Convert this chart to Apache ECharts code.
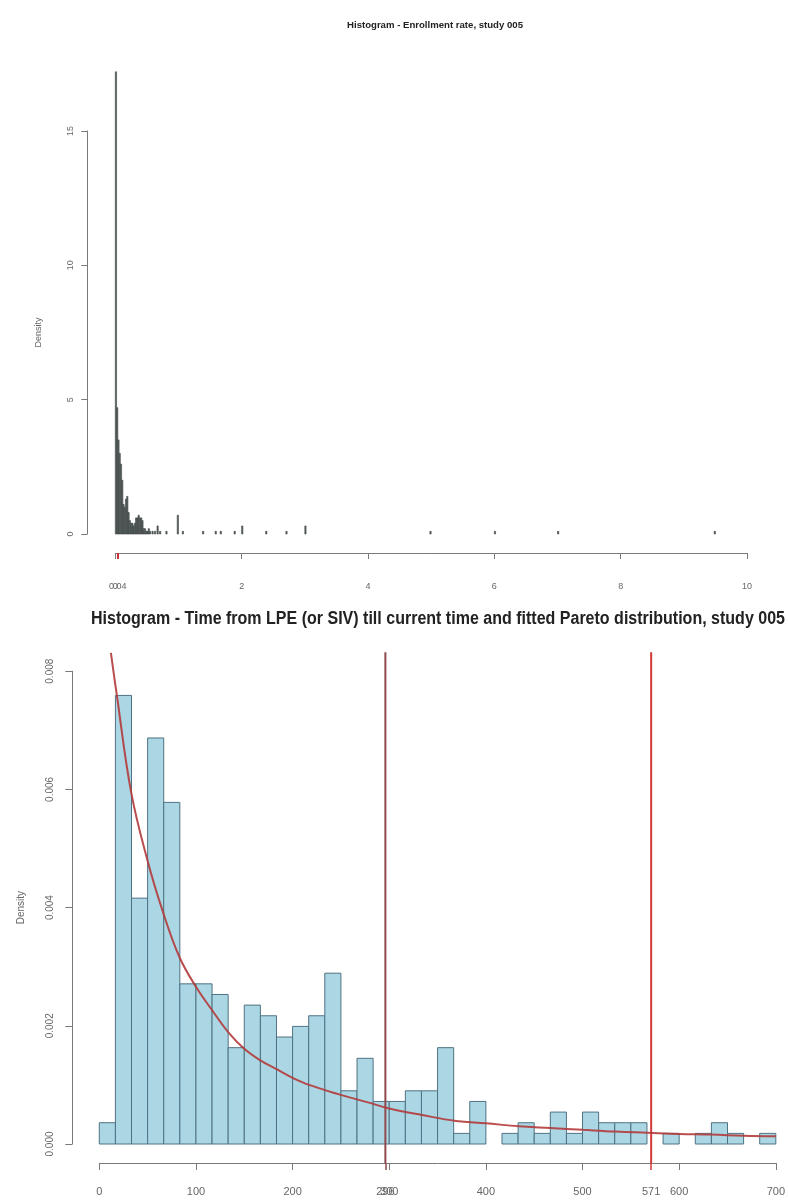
<!DOCTYPE html>
<html><head><meta charset="utf-8">
<script src="https://cdn.jsdelivr.net/npm/echarts@6/dist/echarts.min.js"></script>
<style>html,body{margin:0;padding:0;background:#fff}#c{width:788px;height:1203px}</style>
</head><body><div id="c"></div>
<script>
// ---------- Top chart: enrollment rate histogram ----------
const rateTitle = 'Histogram - Enrollment rate, study 005';
const rateBinWidth = 0.02;
const rateBinStarts = [0.00,0.02,0.04,0.06,0.08,0.10,0.12,0.14,0.16,0.18,0.20,0.22,0.24,0.26,0.28,0.30,0.32,0.34,0.36,0.38,0.40,0.42,0.44,0.46,0.48,0.50,0.52,0.54,0.58,0.62,0.66,0.70,0.80,0.98,1.06,1.38,1.58,1.66,1.88,2.00,2.38,2.70,3.00,4.98,6.00,7.00,9.48];
const rateDensity   = [17.2,4.7,3.5,3.0,2.6,2.0,1.1,1.0,1.3,1.4,0.8,0.5,0.4,0.4,0.3,0.4,0.6,0.6,0.7,0.6,0.6,0.5,0.2,0.2,0.1,0.1,0.2,0.1,0.1,0.1,0.3,0.1,0.1,0.7,0.1,0.1,0.1,0.1,0.1,0.3,0.1,0.1,0.3,0.1,0.1,0.1,0.1];
const rateXTicks = [0,2,4,6,8,10];
const rateYTicks = [0,5,10,15];
const rateMarkTicks = [0.04];

// ---------- Bottom chart: time from LPE histogram + fitted Pareto ----------
const timeTitle = 'Histogram - Time from LPE (or SIV) till current time and fitted Pareto distribution, study 005';
const timeBinWidth = 50/3;
const timeDensity = [0.00036,0.00759,0.00416,0.00687,0.00578,0.00271,0.00271,0.00253,0.00163,0.00235,
  0.00217,0.00181,0.00199,0.00217,0.00289,0.00090,0.00145,0.00072,0.00072,0.00090,
  0.00090,0.00163,0.00018,0.00072,0,0.00018,0.00036,0.00018,0.00054,0.00018,
  0.00054,0.00036,0.00036,0.00036,0,0.00018,0,0.00018,0.00036,0.00018,0,0.00018];
const paretoX = [12,18,33,50,66,83,100,116,134,150,167,183,200,217,248,279,300,334,369,400,434,467,500,534,567,600,633,667,700];
const paretoY = [0.00831,0.00761,0.00595,0.00479,0.00392,0.00316,0.00266,0.00228,0.00188,0.00161,0.00141,0.00127,0.00112,0.00100,0.00084,0.00070,0.00060,0.00049,0.00039,0.00035,0.00030,0.00027,0.00024,0.00021,0.00019,0.00017,0.00016,0.00014,0.00013];
const vLineValues = [296, 571];
const vLineColors = ['#8e4a4a', '#d03a3a'];
const timeXTicks = [0,100,200,300,400,500,600,700];
const timeYTicks = [0,0.002,0.004,0.006,0.008];

const FONT = '"Liberation Sans", Arial, sans-serif';
const AXC = '#7a7a7a', LBC = '#666';

const rateData = rateBinStarts.map((s,i)=>[s, rateDensity[i]]);
const timeData = timeDensity.map((d,i)=>[i*timeBinWidth, d]);
const paretoData = paretoX.map((x,i)=>[x, paretoY[i]]);

function histRender(width){
  return function(params, api){
    const x0 = api.value(0), h = api.value(1);
    if (!h) return null;
    const p0 = api.coord([x0, h]);
    const p1 = api.coord([x0 + width, 0]);
    return {type:'rect', shape:{x:p0[0], y:p0[1], width:p1[0]-p0[0], height:p1[1]-p0[1]}, style: api.style()};
  };
}

function axisLine(show){ return {show:show, onZero:false, lineStyle:{color:AXC, width:1}}; }

const tYmax = 0.008;
const option = {
  animation:false,
  backgroundColor:'#fff',
  title:[
    {text:rateTitle, left:430, top:15, textAlign:'center', textStyle:{fontFamily:FONT, fontSize:9.6, fontWeight:'bold', color:'#222'}}
  ],
  graphic:[
    {type:'text', x:438, y:619, scaleX:0.89, silent:true,
      style:{text:timeTitle, fill:'#222', fontFamily:FONT, fontSize:18, fontWeight:'bold', align:'center', verticalAlign:'middle'}}
  ],
  grid:[
    {left:115.3, right:41, top:131, bottom:669},
    {left:115.3, right:41, top:71.8, bottom:669},
    {left:99.3, right:10, top:671.2, bottom:59}
  ],
  xAxis:[
    {type:'value', gridIndex:0, position:'bottom', min:0, max:10, offset:19, splitLine:{show:false},
      axisLine:axisLine(true),
      axisTick:{show:true, length:6, lineStyle:{color:AXC}, customValues:rateXTicks},
      axisLabel:{color:LBC, fontFamily:FONT, fontSize:9, margin:29, customValues:rateXTicks}},
    {type:'value', gridIndex:0, position:'bottom', min:0, max:10, offset:19, splitLine:{show:false},
      axisLine:axisLine(false),
      axisTick:{show:true, length:6, lineStyle:{color:'#cc3333', width:2}, customValues:rateMarkTicks},
      axisLabel:{color:LBC, fontFamily:FONT, fontSize:9, margin:29, customValues:rateMarkTicks, formatter:v=>String(v)}},
    {type:'value', gridIndex:1, min:0, max:10, show:false},
    {type:'value', gridIndex:2, position:'bottom', min:0, max:700, offset:19, splitLine:{show:false},
      axisLine:axisLine(true),
      axisTick:{show:true, length:7, lineStyle:{color:AXC}, customValues:timeXTicks},
      axisLabel:{color:LBC, fontFamily:FONT, fontSize:11, margin:23, customValues:timeXTicks}},
    {type:'value', gridIndex:2, position:'bottom', min:0, max:700, offset:19, splitLine:{show:false},
      axisLine:axisLine(false),
      axisTick:{show:true, length:7, lineStyle:{color:vLineColors[0], width:1.5}, customValues:[vLineValues[0]]},
      axisLabel:{color:LBC, fontFamily:FONT, fontSize:11, margin:23, customValues:[vLineValues[0]]}},
    {type:'value', gridIndex:2, position:'bottom', min:0, max:700, offset:19, splitLine:{show:false},
      axisLine:axisLine(false),
      axisTick:{show:true, length:7, lineStyle:{color:vLineColors[1], width:1.5}, customValues:[vLineValues[1]]},
      axisLabel:{color:LBC, fontFamily:FONT, fontSize:11, margin:23, customValues:[vLineValues[1]]}}
  ],
  yAxis:[
    {type:'value', gridIndex:0, position:'left', min:0, max:15, offset:28, splitLine:{show:false},
      axisLine:axisLine(true),
      name:'Density', nameLocation:'middle', nameRotate:90, nameGap:44,
      nameTextStyle:{color:LBC, fontFamily:FONT, fontSize:9},
      axisTick:{show:true, length:6, lineStyle:{color:AXC}, customValues:rateYTicks},
      axisLabel:{color:LBC, fontFamily:FONT, fontSize:9, margin:12, rotate:90, customValues:rateYTicks}},
    {type:'value', gridIndex:1, min:0, max:17.2, show:false},
    {type:'value', gridIndex:2, position:'left', min:0, max:tYmax, offset:27, splitLine:{show:false},
      axisLine:axisLine(true),
      name:'Density', nameLocation:'middle', nameRotate:90, nameGap:46,
      nameTextStyle:{color:LBC, fontFamily:FONT, fontSize:10},
      axisTick:{show:true, length:7, lineStyle:{color:AXC}, customValues:timeYTicks},
      axisLabel:{color:LBC, fontFamily:FONT, fontSize:10, margin:17, rotate:90, customValues:timeYTicks, formatter:v=>v.toFixed(3)}}
  ],
  series:[
    {type:'custom', xAxisIndex:2, yAxisIndex:1, data:rateData, renderItem:histRender(rateBinWidth),
      itemStyle:{color:'#5d6464', borderColor:'#3b4242', borderWidth:0.6}, clip:false},
    {type:'custom', xAxisIndex:3, yAxisIndex:2, data:timeData, renderItem:histRender(timeBinWidth),
      itemStyle:{color:'#abd6e4', borderColor:'#4f7282', borderWidth:1}},
    {type:'custom', xAxisIndex:3, yAxisIndex:2, data:vLineValues.map(v=>[v]), clip:false, z:3,
      renderItem:function(params, api){
        const v = api.value(0);
        const a = api.coord([v, -0.04*tYmax]);
        const b = api.coord([v, 1.04*tYmax]);
        return {type:'line', shape:{x1:a[0], y1:a[1], x2:b[0], y2:b[1]},
          style:{stroke:vLineColors[params.dataIndex], lineWidth:2}};
      }},
    {type:'line', xAxisIndex:3, yAxisIndex:2, data:paretoData, smooth:0.4, symbol:'none', clip:false, z:4,
      lineStyle:{color:'#b23a3a', width:2, opacity:0.9}}
  ]
};
const chart = echarts.init(document.getElementById('c'));
chart.setOption(option);
</script></body></html>
